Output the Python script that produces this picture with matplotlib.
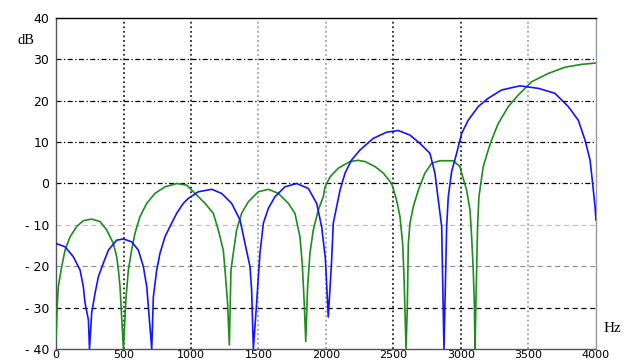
import matplotlib
matplotlib.use("Agg")
import matplotlib.pyplot as plt

# DATA
blue_hz = [0, 67, 128, 178, 202, 215, 240, 248, 264, 289, 314, 350, 388, 449,
           499, 560, 610, 647, 672, 684, 709, 721, 746, 770, 807, 844, 894,
           943, 980, 1054, 1153, 1227, 1301, 1363, 1400, 1437, 1449, 1462,
           1486, 1499, 1511, 1536, 1573, 1622, 1696, 1783, 1869, 1931, 1968,
           1995, 2017, 2042, 2054, 2079, 2104, 2141, 2190, 2252, 2350, 2449,
           2536, 2622, 2696, 2770, 2807, 2832, 2857, 2874, 2894, 2906, 2931,
           2968, 3005, 3054, 3128, 3202, 3301, 3437, 3573, 3696, 3795, 3869,
           3919, 3956, 3973, 3993, 4000]
blue_db = [-14.5, -15.3, -17.7, -20.9, -24.9, -28.9, -33, -40, -31.3, -26.5,
           -22.5, -19.3, -16.1, -13.7, -13.4, -14.1, -16.1, -20.1, -24.9,
           -29.8, -40, -27.4, -20.9, -16.9, -12.9, -10.4, -7.2, -4.8, -3.6,
           -2.0, -1.4, -2.4, -4.8, -8.8, -14.5, -20.1, -25.7, -40, -29, -22.5,
           -16.9, -9.6, -6.0, -3.2, -0.8, 0.0, -1.2, -4.8, -10.5, -18, -32.3,
           -18.5, -9.6, -5.6, -1.6, 2.5, 5.7, 8.1, 10.9, 12.4, 12.8, 11.7, 9.7,
           7.3, 2.5, -4, -10.4, -40, -10.4, -3.2, 2.9, 7.3, 12.1, 15.3, 18.6,
           20.6, 22.6, 23.6, 23.0, 21.8, 18.6, 15.3, 10.5, 5.7, 0.8, -5.6, -8.8]

green_hz = [0, 8, 17, 42, 67, 104, 153, 202, 264, 326, 375, 425, 449, 462,
            474, 499, 519, 536, 560, 585, 622, 672, 733, 807, 894, 968, 1030,
            1104, 1165, 1202, 1239, 1252, 1271, 1284, 1296, 1313, 1338, 1375,
            1425, 1499, 1573, 1647, 1721, 1770, 1807, 1824, 1839, 1850, 1864,
            1881, 1906, 1943, 1980, 1993, 2030, 2091, 2178, 2237, 2289, 2363,
            2425, 2486, 2523, 2548, 2568, 2578, 2585, 2593, 2602, 2610, 2622,
            2647, 2684, 2733, 2783, 2844, 2943, 2992, 3005, 3042, 3067, 3079,
            3091, 3099, 3104, 3116, 3123, 3133, 3165, 3202, 3227, 3276, 3351,
            3425, 3524, 3647, 3770, 3894, 3993]
green_db = [-38, -30, -24.9, -20.1, -16.1, -12.9, -10.4, -9.0, -8.6, -9.2,
            -11.2, -14.5, -17.7, -20.9, -24.9, -40, -27.4, -20.9, -16.1, -12,
            -8, -4.8, -2.4, -0.8, 0.0, -0.4, -2.4, -4.8, -7.2, -11.2, -16.1,
            -20.9, -29, -39, -20.9, -16.9, -11.2, -7.2, -4.4, -2.0, -1.4, -2.4,
            -4.8, -7.2, -12.9, -19.3, -29, -38.2, -24.9, -16.9, -11.2, -6.4,
            -3.2, -0.8, 1.6, 3.7, 5.3, 5.6, 5.3, 4.1, 2.5, 0.0, -4, -8, -14.5,
            -22.5, -30.6, -40, -30.6, -14.5, -9.6, -5.6, -1.6, 2.5, 4.9, 5.5,
            5.5, 4.1, 2.5, -1.6, -6.4, -12.9, -20.9, -29, -40, -20.9, -10.4,
            -3.2, 4.1, 8.1, 10.5, 14.5, 18.6, 21.4, 24.6, 26.6, 28.1, 28.8, 29.1]

x_ticks = [0, 500, 1000, 1500, 2000, 2500, 3000, 3500, 4000]
x_tick_labels = ["0", "500", "1000", "1500", "2000", "2500", "3000", "3500", "4000"]
y_ticks = [-40, -30, -20, -10, 0, 10, 20, 30, 40]
y_tick_labels = ["- 40", "- 30", "- 20", "- 10", "0", "10", "20", "30", "40"]

# PLOT
fig = plt.figure(figsize=(6.26, 3.63), dpi=100)
ax = fig.add_axes([0.0895, 0.0386, 0.8625, 0.9118])

# GRID (mixed styles as in the scan)
h_grid = {30: ("black", (0, (4, 2, 1, 2))), 20: ("black", (0, (4, 2, 1, 2))),
          10: ("black", (0, (4, 2, 1, 2))), 0: ("black", (0, (4, 2, 1, 2))),
          -10: ("#c0c0c0", (0, (4, 3))), -20: ("#909090", (0, (4, 3))),
          -30: ("black", (0, (4, 3)))}
for yv, (col, ls) in h_grid.items():
    ax.axhline(yv, color=col, linestyle=ls, linewidth=0.9, zorder=1)

v_grid = {500: "black", 1000: "black", 1500: "#909090", 2000: "#909090",
          2500: "black", 3000: "black", 3500: "#909090"}
for xv, col in v_grid.items():
    ax.axvline(xv, color=col, linestyle=(0, (1.2, 1.8)), linewidth=1.1, zorder=1)

ax.plot(green_hz, green_db, color="#1e8c1e", linewidth=1.2, zorder=3)
ax.plot(blue_hz, blue_db, color="#1414ff", linewidth=1.2, zorder=3)

ax.set_xlim(0, 4000)
ax.set_ylim(-40, 40)

ax.set_xticks(x_ticks)
ax.set_xticklabels(x_tick_labels)
ax.set_yticks(y_ticks)
ax.set_yticklabels(y_tick_labels)
ax.tick_params(axis="y", length=0, labelsize=9, pad=5)
ax.tick_params(axis="x", length=0, labelsize=8, pad=1)

ax.spines["top"].set_color("black")
ax.spines["left"].set_color("#555555")
ax.spines["bottom"].set_color("#555555")
ax.spines["right"].set_color("#999999")
for s in ax.spines.values():
    s.set_linewidth(1.0)

fig.text(17 / 626, 1 - 41 / 363, "dB", fontsize=10.5, family="Liberation Serif",
         ha="left", va="center")
fig.text(604 / 626, 1 - 328 / 363, "Hz", fontsize=11, family="Liberation Serif",
         ha="left", va="center")

plt.savefig("out.png", dpi=100)
